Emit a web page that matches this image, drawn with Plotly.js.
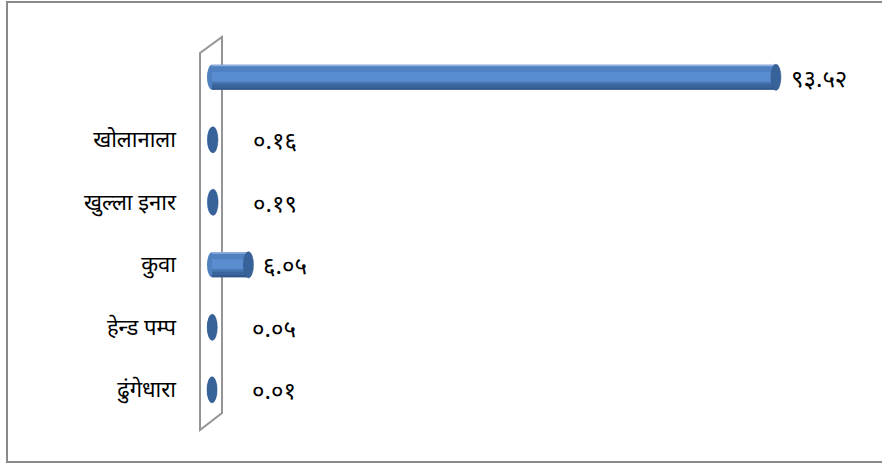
<!DOCTYPE html>
<html>
<head>
<meta charset="utf-8">
<script src="https://cdn.plot.ly/plotly-3.0.1.min.js"></script>
<style>
  html, body { margin: 0; padding: 0; background: #ffffff; overflow: hidden; width: 882px; height: 465px; }
  #wrap { position: relative; width: 882px; height: 465px; overflow: hidden; }
  #frame { position: absolute; left: 6px; top: 1px; width: 876px; height: 462px;
           border-left: 2px solid #8a8a8a; border-top: 2px solid #8a8a8a; border-bottom: 2px solid #8a8a8a;
           box-sizing: border-box; }
  #chart { position: absolute; left: 0; top: 0; width: 882px; height: 465px; }
</style>
</head>
<body>
<div id="wrap">
  <div id="frame"></div>
  <div id="chart"></div>
</div>
<script>
// ---- data ----
const categories = ['', 'खोलानाला', 'खुल्ला इनार', 'कुवा', 'हेन्ड पम्प', 'ढुंगेधारा'];
const values = [93.52, 0.16, 0.19, 6.05, 0.05, 0.01];
const valueLabels = ['९३.५२', '०.१६', '०.१९', '६.०५', '०.०५', '०.०१'];

// ---- styling / construction ----
const yIdx = categories.map((_, i) => i);
const capHalfW = 0.83;   // in x data units (~5px)
const capHalfH = 0.21;   // in category units
const barW = 0.40;
const mainColor = '#4F80C0';

function barTrace(color, width, offset) {
  return {
    type: 'bar', orientation: 'h',
    x: values, y: yIdx,
    width: width, offset: offset,
    marker: { color: color, line: { width: 0 } },
    hoverinfo: 'skip', showlegend: false
  };
}

const traces = [
  barTrace(mainColor, barW, -barW / 2),
  barTrace('#8FB1DE', 0.025, -0.2),
  barTrace('#5A8DD0', 0.18, -0.09),
  barTrace('#4674AF', 0.06, 0.07),
  barTrace('#3A659C', 0.05, 0.11),
  barTrace('#33598A', 0.04, 0.16)
];

const shapes = [
  {
    type: 'path', xref: 'paper', yref: 'paper', layer: 'below',
    path: 'M 0.0147,0.9813 L 0.0469,1.024 L 0.0469,0.0213 L 0.0147,-0.024 Z',
    line: { color: '#949494', width: 2 }, fillcolor: 'rgba(255,255,255,0)'
  }
];
yIdx.forEach(i => {
  shapes.push({
    type: 'circle', xref: 'x', yref: 'y', layer: 'below',
    x0: -capHalfW, x1: capHalfW, y0: i - barW / 2, y1: i + barW / 2,
    fillcolor: mainColor, line: { width: 0 }
  });
});
values.forEach((v, i) => {
  shapes.push({
    type: 'circle', xref: 'x', yref: 'y', layer: 'above',
    x0: v - capHalfW, x1: v + capHalfW, y0: i - capHalfH, y1: i + capHalfH,
    fillcolor: '#38629A', line: { color: '#2F5584', width: 0.5 }
  });
});

const annotations = values.map((v, i) => ({
  x: v, y: i, xref: 'x', yref: 'y',
  text: valueLabels[i], showarrow: false,
  xanchor: 'left', yanchor: 'middle',
  xshift: v < 1 ? 38 : 13,
  font: { family: 'Noto Sans, DejaVu Sans, sans-serif', size: 24, color: '#000000' }
}));

const layout = {
  width: 882, height: 465,
  margin: { l: 190, r: 10, t: 46, b: 44 },
  paper_bgcolor: 'rgba(0,0,0,0)',
  plot_bgcolor: 'rgba(0,0,0,0)',
  barmode: 'overlay',
  showlegend: false,
  xaxis: {
    range: [-3.648, 109.45], showgrid: false, zeroline: false,
    showticklabels: false, ticks: '', showline: false, fixedrange: true
  },
  yaxis: {
    range: [5.5, -0.5], tickmode: 'array', tickvals: yIdx, ticktext: categories,
    showgrid: false, zeroline: false, showline: false, ticks: '',
    ticklabelstandoff: 13,
    tickfont: { family: 'Noto Sans, DejaVu Sans, sans-serif', size: 22, color: '#000000' },
    fixedrange: true
  },
  shapes: shapes,
  annotations: annotations
};

Plotly.newPlot('chart', traces, layout, { displayModeBar: false, staticPlot: true });
</script>
</body>
</html>
